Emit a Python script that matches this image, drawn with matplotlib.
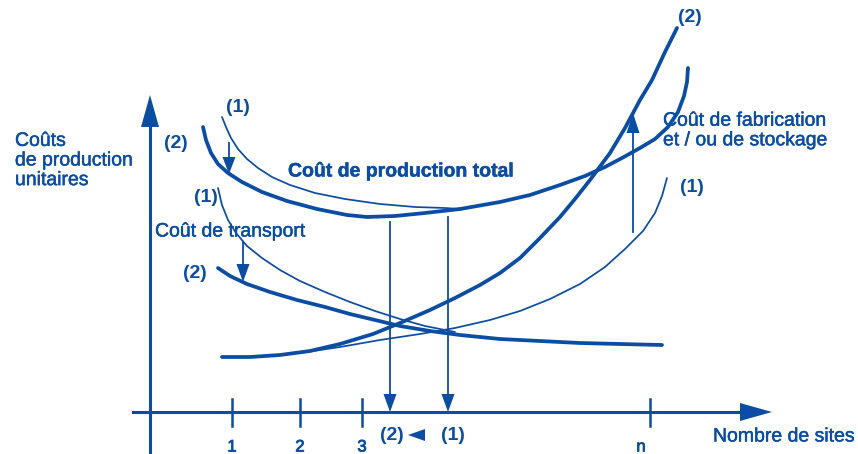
import matplotlib
matplotlib.use("Agg")
import matplotlib.pyplot as plt
import matplotlib.patheffects as pe

BLUE = "#0b4da2"
plt.rcParams['font.family'] = ['Liberation Sans', 'DejaVu Sans']

# ---- curve data (pixel space of the 858x454 figure, y downward)
total1_x = [222, 226, 231, 238, 247, 258, 272, 290, 315, 345, 380, 415, 445, 460]
total1_y = [117, 127, 138, 149, 159, 168, 177, 185, 193, 199, 204, 207, 208, 209]
total2_x = [203, 206, 211, 218, 228, 242, 262, 287, 317, 347, 367, 395, 425, 460]
total2_y = [127, 140, 153, 164, 173, 182, 192, 201, 209, 215, 217, 216, 213, 209]
totalr_x = [460, 500, 530, 560, 585, 605, 622, 640, 655, 668, 678, 684, 687, 688]
totalr_y = [209, 202, 195, 185, 176, 167, 158, 148, 139, 127, 112, 96, 82, 68]

trans1_x = [218, 222, 228, 236, 247, 262, 280, 300, 325, 350, 375, 400, 425, 455]
trans1_y = [188, 205, 220, 233, 246, 258, 270, 281, 292, 302, 311, 319, 326, 332]
trans2_x = [218, 230, 247, 270, 297, 325, 350, 375, 400, 430, 460, 500, 540, 580, 620, 662]
trans2_y = [268, 276, 284, 292, 300, 307, 314, 320, 326, 331, 335, 339, 341, 343, 344, 345]

fab2_x = [222, 250, 280, 310, 340, 373, 400, 430, 455, 480, 500, 520, 540, 560, 575, 590,
          610, 625, 640, 652, 665, 677]
fab2_y = [357, 357, 355, 351, 344, 334, 323, 310, 298, 285, 273, 258, 238, 217, 199, 180,
          153, 128, 100, 80, 52, 28]
fab1_x = [300, 340, 380, 420, 455, 490, 520, 550, 580, 605, 625, 643, 655, 662, 667]
fab1_y = [353, 347, 340, 334, 328, 320, 311, 299, 284, 267, 249, 231, 213, 196, 178]

x_ticks = [232, 300, 362, 650]
x_tick_labels = ["1", "2", "3", "n"]
optima_x = [390, 448]

fig = plt.figure(figsize=(8.58, 4.54), dpi=100)
ax = fig.add_axes([0, 0, 1, 1])
ax.set_xlim(0, 858)
ax.set_ylim(454, 0)
ax.axis('off')

THICK, THIN = 2.7, 1.25
kw = dict(color=BLUE, solid_capstyle='round', solid_joinstyle='round')
ax.plot(total1_x, total1_y, lw=THIN, **kw)
ax.plot(total2_x, total2_y, lw=THICK, **kw)
ax.plot(totalr_x, totalr_y, lw=THICK, **kw)
ax.plot(trans1_x, trans1_y, lw=THIN, **kw)
ax.plot(trans2_x, trans2_y, lw=THICK, **kw)
ax.plot(fab2_x, fab2_y, lw=THICK, **kw)
ax.plot(fab1_x, fab1_y, lw=THIN, **kw)


def head(tip, direction, length, width):
    tx, ty = tip
    dx, dy = direction
    bx, by = tx - dx * length, ty - dy * length
    px, py = -dy * width / 2, dx * width / 2
    ax.fill([tx, bx + px, bx - px], [ty, by + py, by - py], color=BLUE, lw=0)


# axes
ax.plot([150, 150], [452, 120], color=BLUE, lw=2.2)
head((150, 95), (0, -1), 32, 18)
ax.plot([133, 745], [412, 412], color=BLUE, lw=2.2)
head((772, 412), (1, 0), 32, 18)

light = [pe.withStroke(linewidth=0.35, foreground=BLUE)]
heavy = [pe.withStroke(linewidth=0.6, foreground=BLUE)]
for xt, lab in zip(x_ticks, x_tick_labels):
    ax.plot([xt, xt], [399, 426], color=BLUE, lw=1.8)
    ax.text(xt - (9 if lab == 'n' else 0), 447, lab, color=BLUE, fontsize=12,
            ha='center', va='center', path_effects=heavy)

# optimum arrows down to the axis
for xo, y0 in zip(optima_x, [222, 217]):
    ax.plot([xo, xo], [y0, 396], color=BLUE, lw=1.3)
    head((xo, 412), (0, 1), 18, 13)

# shift arrows
ax.plot([633, 633], [232, 130], color=BLUE, lw=1.3)
head((633, 113), (0, -1), 20, 13)
ax.plot([243, 243], [242, 265], color=BLUE, lw=1.3)
head((243, 282), (0, 1), 18, 13)
ax.plot([229, 229], [143, 158], color=BLUE, lw=1.3)
head((229, 174), (0, 1), 17, 13)

# texts
tk = dict(color=BLUE, fontsize=14, va='center', path_effects=light)
ax.text(15, 161, "Coûts\nde production\nunitaires", linespacing=1.2, **tk)
ax.text(288, 172, "Coût de production total", fontweight='bold', color=BLUE,
        fontsize=14, va='center', path_effects=light)
ax.text(155, 232, "Coût de transport", **tk)
ax.text(663, 131, "Coût de fabrication\net / ou de stockage", linespacing=1.2, **tk)
ax.text(713, 437, "Nombre de sites", **tk)

bk = dict(color=BLUE, fontsize=14, va='center', ha='center', fontweight='bold')
ax.text(238, 108, "(1)", **bk)
ax.text(176, 143, "(2)", **bk)
ax.text(206, 198, "(1)", **bk)
ax.text(195, 273, "(2)", **bk)
ax.text(690, 18, "(2)", **bk)
ax.text(692, 187, "(1)", **bk)
ax.text(392, 435, "(2)", **bk)
ax.text(453, 435, "(1)", **bk)
head((408, 435), (-1, 0), 17, 12)

fig.savefig("out.png", dpi=100)
